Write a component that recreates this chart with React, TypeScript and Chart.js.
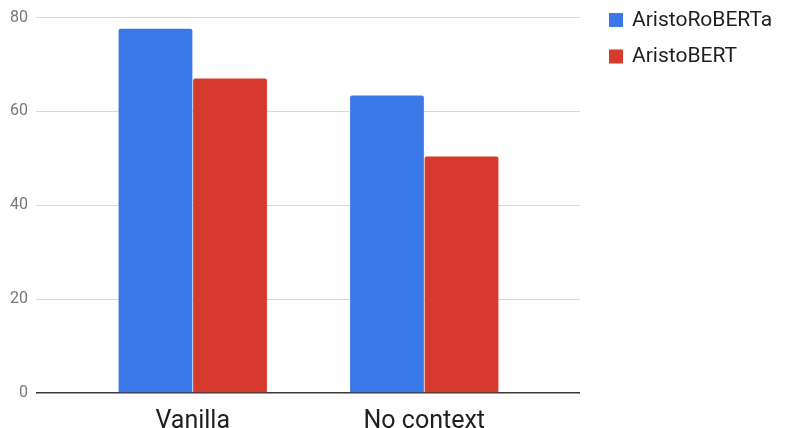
import React, { useEffect, useRef } from "react";
import { Chart, registerables } from "chart.js";

Chart.register(...registerables);

const categories = ["Vanilla", "No context"];
const seriesNames = ["AristoRoBERTa", "AristoBERT"];
const robertaValues = [77.6, 63.4];
const bertValues = [67.0, 50.4];
const yTicks = [0, 20, 40, 60, 80];
const seriesColors = ["#3b78e7", "#d53a2d"];

const FONT = "Roboto, 'Noto Sans', Arial, sans-serif";

const legendPlugin = {
  id: "customLegend",
  afterDraw(chart: any) {
    const ctx = chart.ctx;
    ctx.save();
    chart.data.datasets.forEach((ds: any, i: number) => {
      const y = 13 + i * 36.5;
      ctx.fillStyle = ds.backgroundColor;
      ctx.fillRect(609, y, 14, 14);
      ctx.fillStyle = "#1f1f1f";
      ctx.font = `21px ${FONT}`;
      ctx.textBaseline = "middle";
      ctx.textAlign = "left";
      ctx.fillText(ds.label, 632, y + 7.5);
    });
    ctx.restore();
  },
};

export default function App() {
  const canvasRef = useRef<HTMLCanvasElement | null>(null);

  useEffect(() => {
    const canvas = canvasRef.current;
    if (!canvas) return;
    const gridColor = (c: any) =>
      c.tick && c.tick.value === 0 ? "#3a3a3a" : "#d9d9d9";
    const gridWidth = (c: any) => (c.tick && c.tick.value === 0 ? 1.4 : 1);
    const chart = new Chart(canvas, {
      type: "bar",
      data: {
        labels: categories,
        datasets: [
          {
            label: seriesNames[0],
            data: robertaValues,
            backgroundColor: seriesColors[0],
            borderWidth: 0,
            borderRadius: 2,
          },
          {
            label: seriesNames[1],
            data: bertValues,
            backgroundColor: seriesColors[1],
            borderWidth: 0,
            borderRadius: 2,
          },
        ],
      },
      options: {
        responsive: false,
        animation: false,
        devicePixelRatio: 1,
        layout: { padding: { top: 17, right: 206, left: 0, bottom: 0 } },
        datasets: {
          bar: { categoryPercentage: 0.644, barPercentage: 0.99 },
        },
        plugins: {
          legend: { display: false },
          tooltip: { enabled: false },
        },
        scales: {
          x: {
            grid: { display: false },
            border: { display: false },
            ticks: {
              color: "#1f1f1f",
              font: { family: FONT, size: 25 },
              padding: 6,
            },
            afterFit: (s: any) => {
              s.height = 35;
            },
          },
          y: {
            min: 0,
            max: 80,
            afterBuildTicks: (s: any) => {
              s.ticks = yTicks.map((v) => ({ value: v }));
            },
            ticks: {
              color: "#777777",
              font: { family: FONT, size: 16 },
              padding: 8,
            },
            grid: {
              color: gridColor,
              lineWidth: gridWidth,
              drawTicks: true,
              tickLength: 41,
            },
            border: { display: false },
            afterFit: (s: any) => {
              s.width = 77;
            },
          },
          y2: {
            position: "right",
            min: 0,
            max: 80,
            afterBuildTicks: (s: any) => {
              s.ticks = yTicks.map((v) => ({ value: v }));
            },
            ticks: { display: false },
            grid: {
              color: gridColor,
              lineWidth: gridWidth,
              drawOnChartArea: false,
              drawTicks: true,
              tickLength: 40,
            },
            border: { display: false },
            afterFit: (s: any) => {
              s.width = 40;
            },
          },
        },
      },
      plugins: [legendPlugin],
    });
    return () => chart.destroy();
  }, []);

  return (
    <div
      style={{
        position: "fixed",
        left: 0,
        top: 0,
        width: 786,
        height: 428,
        background: "#ffffff",
      }}
    >
      <canvas ref={canvasRef} width={786} height={428} />
    </div>
  );
}
